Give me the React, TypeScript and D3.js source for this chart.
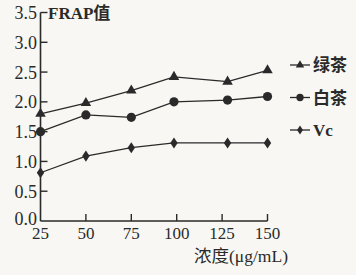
import React from "react";
import * as d3 from "d3";

const concentrations = [25, 50, 75, 98.5, 128, 150];
const xTicks = [25, 50, 75, 100, 125, 150];
const yTicks = [0, 0.5, 1.0, 1.5, 2.0, 2.5, 3.0, 3.5];
const greenTea = [1.8, 1.98, 2.19, 2.42, 2.34, 2.53];
const whiteTea = [1.5, 1.78, 1.74, 2.0, 2.03, 2.09];
const vc = [0.81, 1.09, 1.23, 1.31, 1.31, 1.31];
const seriesNames = ["绿茶", "白茶", "Vc"];
const yTitle = "FRAP值";
const xTitle = "浓度(μg/mL)";

const W = 356;
const H = 275;
const ink = "#2a2a2a";
const font = "'Liberation Serif', 'Noto Sans CJK SC', serif";

function Marker({ kind, x, y, s = 1 }: { kind: number; x: number; y: number; s?: number }) {
  if (kind === 0) {
    const tri = d3.symbol(d3.symbolTriangle, 48 * s * s)();
    return <path d={tri || ""} transform={`translate(${x},${y})`} fill={ink} />;
  }
  if (kind === 1) return <circle cx={x} cy={y} r={4.6 * s} fill={ink} />;
  const dia = d3.symbol(d3.symbolDiamond, 36 * s * s)();
  return <path d={dia || ""} transform={`translate(${x},${y}) scale(1.15,1)`} fill={ink} />;
}

export default function App() {
  const x = d3.scaleLinear().domain([25, 150]).range([40.5, 267.5]);
  const y = d3.scaleLinear().domain([0, 3.5]).range([221, 12.5]);
  const line = d3
    .line<number>()
    .x((_, i) => x(concentrations[i]))
    .y((d) => y(d));
  const series = [greenTea, whiteTea, vc];
  const legendY = [65, 97.5, 130];

  return (
    <svg
      width={W}
      height={H}
      style={{ position: "absolute", left: 0, top: 0, background: "#f8f7f3" }}
      fontFamily={font}
    >
      {/* axes */}
      <line x1={x(25)} x2={x(25)} y1={y(0)} y2={y(3.5)} stroke={ink} strokeWidth={1.6} />
      <line x1={x(25)} x2={x(150)} y1={y(0)} y2={y(0)} stroke={ink} strokeWidth={1.6} />
      {yTicks.map((t) => (
        <g key={"y" + t}>
          {t > 0 && (
            <line x1={x(25)} x2={x(25) + 7} y1={y(t)} y2={y(t)} stroke={ink} strokeWidth={1.4} />
          )}
          <text
            x={37}
            y={y(t) - (t === 0 ? 2.5 : 0)}
            dy="0.36em"
            textAnchor="end"
            fontSize={18}
            fill={ink}
          >
            {t.toFixed(1)}
          </text>
        </g>
      ))}
      {xTicks.map((t) => (
        <g key={"x" + t}>
          {t > 25 && (
            <line x1={x(t)} x2={x(t)} y1={y(0)} y2={y(0) - 7} stroke={ink} strokeWidth={1.4} />
          )}
          <text x={x(t)} y={238.5} textAnchor="middle" fontSize={17} fill={ink}>
            {t}
          </text>
        </g>
      ))}
      <text x={48} y={19} fontSize={17} fontWeight="bold" fill={ink}>
        {yTitle}
      </text>
      <text x={241} y={262} textAnchor="middle" fontSize={17.5} fill={ink}>
        {xTitle}
      </text>

      {/* series */}
      {series.map((s, k) => (
        <g key={"s" + k}>
          <path d={line(s) || ""} fill="none" stroke={ink} strokeWidth={1.3} />
          {s.map((v, i) => (
            <Marker key={i} kind={k} x={x(concentrations[i])} y={y(v)} />
          ))}
        </g>
      ))}

      {/* legend */}
      {seriesNames.map((name, k) => (
        <g key={"l" + k}>
          <line x1={290} x2={310} y1={legendY[k]} y2={legendY[k]} stroke={ink} strokeWidth={1.3} />
          <Marker kind={k} x={300} y={legendY[k]} s={0.8} />
          <text x={313} y={legendY[k]} dy="0.36em" fontSize={17} fontWeight="bold" fill={ink}>
            {name}
          </text>
        </g>
      ))}
    </svg>
  );
}
